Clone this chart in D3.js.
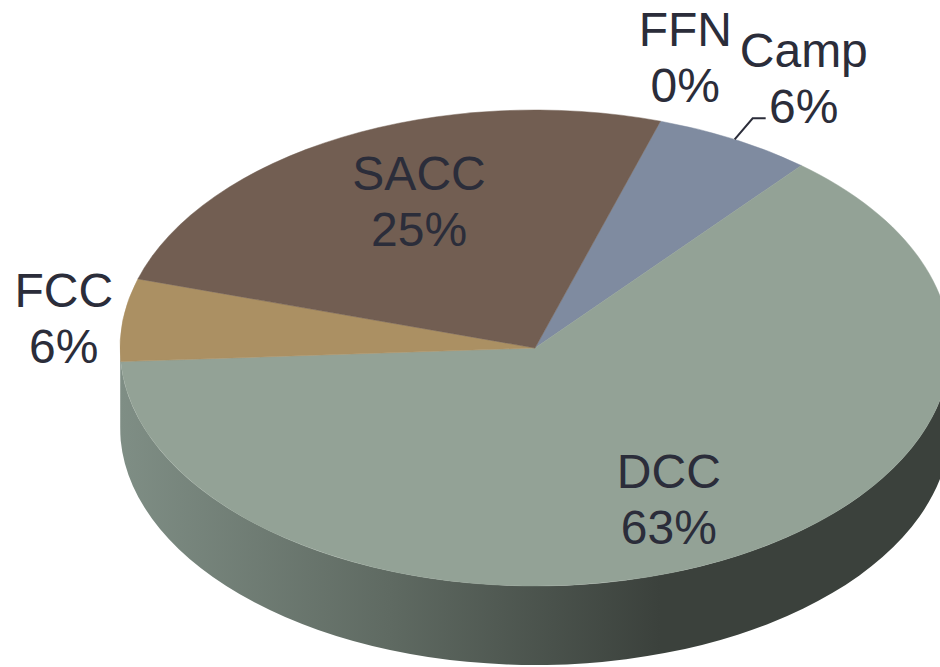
<!DOCTYPE html>
<meta charset="utf-8">
<style>
    html, body { margin: 0; background: #fff; }
    svg { display: block; }
    text { font-family: "Liberation Sans", Arial, sans-serif; font-size: 48px; fill: #2b2d3a; text-anchor: middle; }
</style>
<div id="chart"></div>
<script src="https://d3js.org/d3.v7.min.js"></script>
<script>
    var names = ["Camp", "DCC", "FCC", "SACC", "FFN"];
    var shares = [6.2, 63, 5.6, 25.2, 0];

    var width = 940, height = 667;
    var cx = 535, cy = 348, rx = 415, ry = 238, depth = 79;
    var squash = ry / rx;
    var firstAngle = 17.6 * Math.PI / 180;

    var colors = { Camp: "#7f8ba0", DCC: "#93a296", FCC: "#ab9063", SACC: "#725e52", FFN: "#7f8ba0" };

    // label position: the slice's point at 60% radius plus this offset
    var labelOffset = { Camp: [149, -156], DCC: [22, 12], FCC: [-224, -24], SACC: [0, -32], FFN: [75, -166] };
    var lineGap = 56;

    var svg = d3.select("#chart").append("svg")
        .attr("width", width)
        .attr("height", height);

    var grad = svg.append("defs").append("linearGradient")
        .attr("id", "wall")
        .attr("gradientUnits", "userSpaceOnUse")
        .attr("x1", 120).attr("x2", 660)
        .attr("y1", 0).attr("y2", 0);
    grad.append("stop").attr("offset", "0").attr("stop-color", "#7f8e85");
    grad.append("stop").attr("offset", "0.5").attr("stop-color", "#5f6a62");
    grad.append("stop").attr("offset", "1").attr("stop-color", "#3b413c");

    var slices = d3.pie()
        .sort(null)
        .startAngle(firstAngle)
        .endAngle(firstAngle + 2 * Math.PI)(shares);
    slices.forEach(function(s, i) { s.name = names[i]; });

    function ex(a) { return cx + rx * Math.sin(a); }
    function ey(a) { return cy - ry * Math.cos(a); }

    // Side wall, only the front half of the disc shows
    slices.forEach(function(s) {
        var a = Math.max(s.startAngle, Math.PI / 2);
        var b = Math.min(s.endAngle, 3 * Math.PI / 2);
        if (b <= a) return;
        var d = "M" + ex(a) + "," + ey(a)
            + "A" + rx + "," + ry + " 0 0 1 " + ex(b) + "," + ey(b)
            + "L" + ex(b) + "," + (ey(b) + depth)
            + "A" + rx + "," + ry + " 0 0 0 " + ex(a) + "," + (ey(a) + depth)
            + "Z";
        svg.append("path").attr("d", d).attr("fill", "url(#wall)");
    });

    // Top face
    var arc = d3.arc().innerRadius(0).outerRadius(rx);
    var face = svg.append("g")
        .attr("transform", "translate(" + cx + "," + cy + ") scale(1," + squash + ")");
    face.selectAll("path")
        .data(slices.filter(function(d) { return d.value > 0; }))
        .enter()
        .append("path")
        .attr("d", arc)
        .attr("fill", function(d) { return colors[d.name]; })
        .attr("stroke", function(d) { return colors[d.name]; })
        .attr("stroke-width", 0.6);

    function pointAt(d, k) {
        var c = d3.arc().innerRadius(k * rx).outerRadius(k * rx).centroid(d);
        return [cx + c[0], cy + c[1] * squash];
    }

    // Leader line for Camp
    var p = pointAt(slices[0], 1);
    svg.append("path")
        .attr("d", "M" + p[0] + "," + p[1] + "L" + (p[0] + 18) + "," + (p[1] - 21) + "L" + (p[0] + 31) + "," + (p[1] - 21))
        .attr("fill", "none")
        .attr("stroke", "#2b2d3a")
        .attr("stroke-width", 2);

    // Labels
    slices.forEach(function(s) {
        var q = pointAt(s, 0.6);
        var off = labelOffset[s.name];
        var t = svg.append("text")
            .attr("y", q[1] + off[1]);
        t.append("tspan").attr("x", q[0] + off[0]).text(s.name);
        t.append("tspan").attr("x", q[0] + off[0]).attr("dy", lineGap).text(Math.round(s.value) + "%");
    });
</script>
